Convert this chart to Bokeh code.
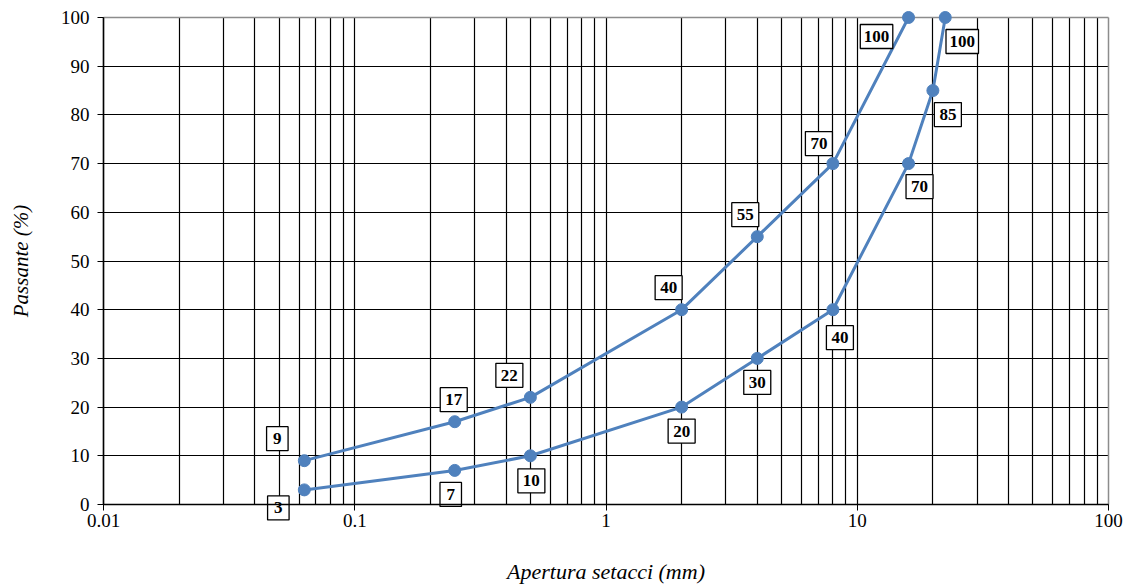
from bokeh.plotting import figure
from bokeh.models import ColumnDataSource, FixedTicker, Grid, BoxAnnotation
from bokeh.core.properties import value
from bokeh.embed import file_html
from bokeh.resources import INLINE

# ---- data ----
upper_sieve = [0.063, 0.25, 0.5, 2, 4, 8, 16]
upper_pass = [9, 17, 22, 40, 55, 70, 100]
lower_sieve = [0.063, 0.25, 0.5, 2, 4, 8, 16, 20, 22.4]
lower_pass = [3, 7, 10, 20, 30, 40, 70, 85, 100]
x_tick_values = [0.01, 0.1, 1, 10, 100]
x_tick_labels = ["0.01", "0.1", "1", "10", "100"]
y_tick_values = list(range(0, 101, 10))

# label offsets in screen pixels (dx right, dy down)
upper_dx = [-27, -1, -21, -13, -12, -14, -32]
upper_dy = [-22, -22, -22, -22, -22, -20, 19]
lower_dx = [-26, -4, 1, 0, 0, 7, 11, 15, 17]
lower_dy = [18, 24, 25, 24, 24, 28, 23, 24, 24]

BLUE = "#4F81BD"
FONT = "Liberation Serif"
GRAY = "#8c8c8c"

W, H = 1133, 585
LEFT, RIGHT, TOP, BOTTOM = 103, 25, 17, 81   # space around the 0..100 plot area
X0, X1 = x_tick_values[0], x_tick_values[-1]
Y0, Y1 = y_tick_values[0], y_tick_values[-1]
px_per_unit = (H - TOP - BOTTOM) / (Y1 - Y0)
px_per_decade = (W - LEFT - RIGHT) / 4.0
# the frame covers the whole figure so that nothing is clipped
x_lo = X0 * 10 ** (-LEFT / px_per_decade)
x_hi = X1 * 10 ** (RIGHT / px_per_decade)
y_lo = Y0 - BOTTOM / px_per_unit
y_hi = Y1 + TOP / px_per_unit

p = figure(width=W, height=H, x_axis_type="log",
           x_range=(x_lo, x_hi), y_range=(y_lo, y_hi),
           output_backend="svg", toolbar_location=None,
           min_border_left=0, min_border_right=0,
           min_border_top=0, min_border_bottom=0)

p.outline_line_color = None

minor = [k * 10 ** e for e in range(-2, 2) for k in range(2, 10)]
p.xaxis.ticker = FixedTicker(ticks=x_tick_values, minor_ticks=minor)
p.xaxis.major_label_overrides = {v: l for v, l in zip(x_tick_values, x_tick_labels)}
p.xaxis.fixed_location = Y0
p.xaxis.bounds = (X0, X1)
p.yaxis.ticker = FixedTicker(ticks=y_tick_values)
p.yaxis.fixed_location = X0
p.yaxis.bounds = (Y0, Y1)

has_cross = "cross_bounds" in Grid.properties()

p.xgrid.ticker = FixedTicker(ticks=x_tick_values[:-1], minor_ticks=minor)
p.ygrid.ticker = FixedTicker(ticks=y_tick_values[:-1])
for g in (p.xgrid, p.ygrid):
    g.grid_line_color = "black"
    g.grid_line_width = 1.2
    g.grid_line_alpha = 1
p.xgrid.minor_grid_line_color = "black"
p.xgrid.minor_grid_line_width = 1.2

top_border = Grid(dimension=1, ticker=FixedTicker(ticks=[Y1]),
                  grid_line_color=GRAY, grid_line_width=1.5)
right_border = Grid(dimension=0, ticker=FixedTicker(ticks=[X1]),
                    grid_line_color=GRAY, grid_line_width=1.5)
p.add_layout(top_border)
p.add_layout(right_border)
if has_cross:
    p.xgrid.cross_bounds = (Y0, Y1)
    right_border.cross_bounds = (Y0, Y1)
    p.ygrid.cross_bounds = (X0, X1)
    top_border.cross_bounds = (X0, X1)
else:
    for kw in (dict(top=Y0), dict(bottom=Y1 + 0.2), dict(right=X0), dict(left=X1 * 1.003)):
        p.add_layout(BoxAnnotation(fill_color="white", fill_alpha=1,
                                   line_color=None, level="underlay", **kw))

for ax in (p.xaxis, p.yaxis):
    ax.axis_line_color = "black"
    ax.axis_line_width = 1.5
    ax.major_tick_line_color = "black"
    ax.major_tick_out = 6
    ax.major_tick_in = 0
    ax.minor_tick_line_color = None
    ax.major_label_text_font = FONT
    ax.major_label_text_font_size = "19px"
    ax.major_label_text_color = "black"
    ax.axis_label_text_font = FONT
    ax.axis_label_text_font_style = "italic"
    ax.axis_label_text_color = "black"

p.xaxis.axis_label = "Apertura setacci (mm)"
p.yaxis.axis_label = "Passante (%)"
p.xaxis.axis_label_text_font_size = "22px"
p.yaxis.axis_label_text_font_size = "21px"
p.xaxis.major_label_standoff = 3
p.xaxis.axis_label_standoff = 29
p.yaxis.major_label_standoff = 8
p.yaxis.axis_label_standoff = 25

series = [(upper_sieve, upper_pass, upper_dx, upper_dy),
          (lower_sieve, lower_pass, lower_dx, lower_dy)]

for xs, ys, dxs, dys in series:
    src = ColumnDataSource(dict(x=xs, y=ys))
    p.line("x", "y", source=src, line_color=BLUE, line_width=3)
    p.scatter("x", "y", source=src, size=12, fill_color=BLUE, line_color=BLUE)

for xs, ys, dxs, dys in series:
    txt = [str(v) for v in ys]
    bx = [x * 10 ** (dx / px_per_decade) for x, dx in zip(xs, dxs)]
    by = [y - dy / px_per_unit for y, dy in zip(ys, dys)]
    bw = [5.5 * len(t) + 16 for t in txt]
    lsrc = ColumnDataSource(dict(x=bx, y=by, w=bw, t=txt))
    p.rect("x", "y", width="w", height=24, width_units="screen",
           height_units="screen", source=lsrc, fill_color="white",
           line_color="black", line_width=1.3)
    p.text("x", "y", text="t", source=lsrc,
           text_align="center", text_baseline="middle",
           text_font=value(FONT), text_font_size="17px",
           text_font_style="bold", text_color="black")

open("out.html", "w").write(file_html(p, INLINE))
